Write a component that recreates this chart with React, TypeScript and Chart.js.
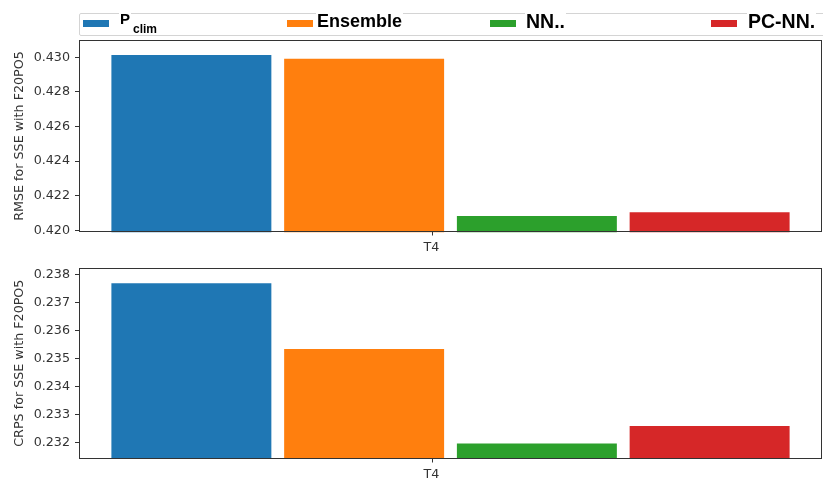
import React, { useEffect, useRef } from "react";
import { Chart, registerables } from "chart.js";

Chart.register(...registerables);

// ---- data ----
const categories = ["T4"];
const seriesNames = ["Pclim", "Ensemble", "NN..", "PC-NN."];
const seriesColors = ["#1f77b4", "#ff7f0e", "#2ca02c", "#d62728"];

const rmseValues = [0.43013, 0.42992, 0.42083, 0.42104];
const crpsValues = [0.2377, 0.23535, 0.23196, 0.23259];

const rmseTicks = [0.42, 0.422, 0.424, 0.426, 0.428, 0.43];
const crpsTicks = [0.232, 0.233, 0.234, 0.235, 0.236, 0.237, 0.238];

const rmseRange = [0.41988, 0.43102];
const crpsRange = [0.23142, 0.23826];

// ---- styling ----
const AXIS_COLOR = "#333";
const FONT = "'DejaVu Sans', sans-serif";
const FONT_SIZE = 12.7;
const X_TICK_SHIFT = -19;

const framePlugin = {
  id: "frame",
  afterDatasetsDraw(chart: any) {
    const { ctx, chartArea: a } = chart;
    ctx.save();
    ctx.strokeStyle = AXIS_COLOR;
    ctx.lineWidth = 1;
    const l = Math.round(a.left) + 0.5;
    const t = Math.round(a.top) + 0.5;
    const r = Math.round(a.right) - 0.5;
    const b = Math.round(a.bottom) - 0.5;
    ctx.strokeRect(l, t, r - l, b - t);
    const x = Math.round(chart.scales.x.getPixelForTick(0) + X_TICK_SHIFT) + 0.5;
    ctx.beginPath();
    ctx.moveTo(x, b);
    ctx.lineTo(x, b + 4);
    ctx.stroke();
    ctx.restore();
  },
};

type PanelProps = {
  values: number[];
  ticks: number[];
  range: number[];
  title: string;
  top: number;
  height: number;
  padTop: number;
  axisHeight: number;
};

function Panel({ values, ticks, range, title, top, height, padTop, axisHeight }: PanelProps) {
  const ref = useRef<HTMLCanvasElement | null>(null);

  useEffect(() => {
    if (!ref.current) return;
    const chart = new Chart(ref.current, {
      type: "bar",
      data: {
        labels: categories,
        datasets: seriesNames.map((name, i) => ({
          label: name,
          data: [values[i]],
          backgroundColor: seriesColors[i],
          borderWidth: 0,
          categoryPercentage: 0.93,
          barPercentage: 0.926,
        })),
      },
      options: {
        animation: false,
        responsive: false,
        devicePixelRatio: 1,
        layout: { padding: { top: padTop, right: 1, left: 0, bottom: 0 } },
        plugins: { legend: { display: false }, tooltip: { enabled: false } },
        scales: {
          x: {
            border: { display: false },
            grid: {
              display: true,
              drawOnChartArea: false,
              drawTicks: true,
              tickLength: 4,
              color: "transparent",
              offset: false,
            },
            ticks: {
              color: AXIS_COLOR,
              font: { family: FONT, size: FONT_SIZE },
              padding: 4,
              labelOffset: X_TICK_SHIFT,
            },
            afterFit: (s: any) => {
              s.height = axisHeight;
            },
          },
          y: {
            min: range[0],
            max: range[1],
            border: { display: false },
            grid: {
              display: true,
              drawOnChartArea: false,
              drawTicks: true,
              tickLength: 4,
              color: AXIS_COLOR,
            },
            ticks: {
              color: AXIS_COLOR,
              font: { family: FONT, size: FONT_SIZE },
              padding: 5,
              callback: (v: any) => Number(v).toFixed(3),
            },
            afterBuildTicks: (s: any) => {
              s.ticks = ticks.map((value) => ({ value }));
            },
            afterFit: (s: any) => {
              s.width = 79;
            },
            title: {
              display: true,
              text: title,
              color: AXIS_COLOR,
              font: { family: FONT, size: FONT_SIZE },
              padding: { top: 12, bottom: 0 },
            },
          },
        },
      },
      plugins: [framePlugin],
    });
    return () => chart.destroy();
  }, []);

  return (
    <canvas
      ref={ref}
      width={823}
      height={height}
      style={{ position: "absolute", left: 0, top, width: 823, height }}
    />
  );
}

const legendText = {
  position: "absolute" as const,
  fontFamily: "'Liberation Sans', Arial, sans-serif",
  fontWeight: 700,
  lineHeight: 1,
  color: "#000",
  background: "#fff",
  whiteSpace: "nowrap" as const,
};

function Swatch({ left, color }: { left: number; color: string }) {
  return (
    <div
      style={{ position: "absolute", left, top: 19.5, width: 26, height: 7, background: color }}
    />
  );
}

export default function App() {
  return (
    <div
      style={{
        position: "absolute",
        left: 0,
        top: 0,
        width: 823,
        height: 478,
        overflow: "hidden",
        background: "#fff",
      }}
    >
      <Panel
        values={rmseValues}
        ticks={rmseTicks}
        range={rmseRange}
        title="RMSE for SSE with F20PO5"
        top={0}
        height={255}
        padTop={39.7}
        axisHeight={22.7}
      />
      <Panel
        values={crpsValues}
        ticks={crpsTicks}
        range={crpsRange}
        title="CRPS for SSE with F20PO5"
        top={255}
        height={223}
        padTop={11}
        axisHeight={19.3}
      />

      {/* legend */}
      <div
        style={{
          position: "absolute",
          left: 79,
          top: 13,
          width: 800,
          height: 21,
          border: "1px solid #d4d4d4",
          borderRadius: 2,
          background: "#fff",
        }}
      />
      <Swatch left={83} color={seriesColors[0]} />
      <Swatch left={287} color={seriesColors[1]} />
      <Swatch left={490} color={seriesColors[2]} />
      <Swatch left={711} color={seriesColors[3]} />

      <span style={{ ...legendText, left: 119, top: 11, fontSize: 15, padding: "0 1px" }}>P</span>
      <span style={{ ...legendText, left: 132, top: 23.2, fontSize: 12, padding: "0 1px" }}>clim</span>
      <span style={{ ...legendText, left: 316, top: 12.1, fontSize: 18, padding: "0 1px" }}>Ensemble</span>
      <span style={{ ...legendText, left: 525, top: 11.8, fontSize: 19.5, padding: "0 1px" }}>NN..</span>
      <span style={{ ...legendText, left: 747, top: 11.8, fontSize: 19.5, padding: "0 1px" }}>PC-NN.</span>
    </div>
  );
}
